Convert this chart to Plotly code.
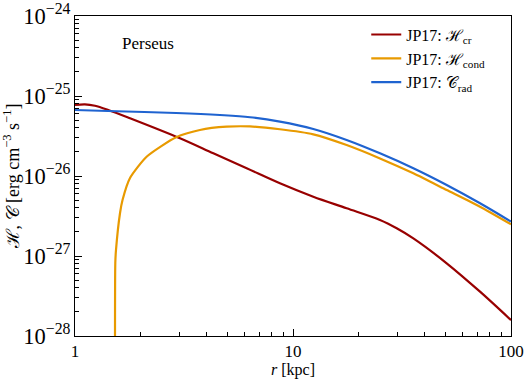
import plotly.graph_objects as go

# C_rad (blue)
r_rad = [1.0, 1.416, 2.91, 4.62, 6.353, 8.71, 12.39, 17.62, 25.06, 35.65, 50.7, 72.1, 100.0]
c_rad = [6.68e-26, 6.49e-26, 6.13e-26, 5.79e-26, 5.43e-26, 4.78e-26, 3.87e-26, 2.82e-26,
         1.92e-26, 1.25e-26, 7.72e-27, 4.56e-27, 2.69e-27]

# H_cond (orange)
r_cond = [1.526, 1.5306, 1.542, 1.609, 1.652, 1.788, 2.13, 2.91, 3.74, 4.96, 6.35,
          8.71, 12.39, 17.62, 25.06, 35.65, 50.7, 72.1, 100.0]
h_cond = [1e-29, 8.18e-28, 1.19e-27, 3.45e-27, 5.01e-27, 9.44e-27, 1.74e-26, 3.05e-26,
          3.76e-26, 4.13e-26, 4.16e-26, 3.84e-26, 3.32e-26, 2.44e-26, 1.66e-26,
          1.08e-26, 6.68e-27, 4.13e-27, 2.49e-27]

# H_cr (red)
r_cr = [1.0, 1.11, 1.235, 1.421, 1.788, 3.03, 4.31, 6.13, 8.71, 12.39, 17.62, 25.06,
        29.9, 35.65, 50.7, 72.1, 100.0]
h_cr = [7.72e-26, 7.87e-26, 7.55e-26, 6.68e-26, 5.26e-26, 2.96e-26, 1.92e-26, 1.25e-26,
        8.11e-27, 5.51e-27, 3.95e-27, 2.82e-27, 2.22e-27, 1.66e-27, 8.11e-28,
        3.58e-28, 1.58e-28]

x_tickvals = [1, 10, 100]
x_ticktext = ["1", "10", "100"]
x_minor = [2, 3, 4, 5, 6, 7, 8, 9, 20, 30, 40, 50, 60, 70, 80, 90]

FONT = "Liberation Serif, DejaVu Serif, serif"

fig = go.Figure()
fig.add_trace(go.Scatter(x=r_cr, y=h_cr, mode="lines", name="JP17: ℋ<sub>cr</sub>",
                         line=dict(color="#980000", width=2.2, shape="spline", smoothing=0.9)))
fig.add_trace(go.Scatter(x=r_cond, y=h_cond, mode="lines", name="JP17: ℋ<sub>cond</sub>",
                         line=dict(color="#e89a00", width=2.2, shape="spline", smoothing=0.6)))
fig.add_trace(go.Scatter(x=r_rad, y=c_rad, mode="lines", name="JP17: 𝒞<sub>rad</sub>",
                         line=dict(color="#1f63d0", width=2.2, shape="spline", smoothing=1.0)))

fig.update_layout(
    width=524, height=380,
    margin=dict(l=75, r=13, t=16, b=44),
    paper_bgcolor="white", plot_bgcolor="white",
    font=dict(family=FONT, size=17, color="black"),
    legend=dict(x=0.668, y=0.995, xanchor="left", yanchor="top",
                bgcolor="rgba(0,0,0,0)", font=dict(family=FONT, size=16),
                tracegroupgap=0),
    annotations=[
        dict(text="Perseus", x=0.103, y=0.915, xref="paper", yref="paper",
             xanchor="left", yanchor="middle", showarrow=False,
             font=dict(family=FONT, size=17)),
        dict(text="<i>r</i> [kpc]", x=0.5, y=-0.106, xref="paper", yref="paper",
             xanchor="center", yanchor="middle", showarrow=False,
             font=dict(family=FONT, size=16)),
    ],
)
fig.update_xaxes(type="log", range=[0, 2], tickmode="array", tickvals=x_tickvals,
                 ticktext=x_ticktext, automargin=False, ticklabeloverflow="allow",
                 showgrid=False, zeroline=False, showline=True, linecolor="black",
                 linewidth=1, mirror=True, ticks="inside", ticklen=7, tickcolor="black",
                 minor=dict(ticks="inside", ticklen=4, tickcolor="black", showgrid=False,
                            tickmode="array", tickvals=x_minor),
                 tickfont=dict(family=FONT, size=17))
fig.update_yaxes(type="log", range=[-28, -24], dtick=1, exponentformat="power",
                 automargin=False,
                 showgrid=False, zeroline=False, showline=True, linecolor="black",
                 linewidth=1, mirror=True, ticks="inside", ticklen=7, tickcolor="black",
                 minor=dict(ticks="inside", ticklen=4, tickcolor="black", showgrid=False),
                 tickfont=dict(family=FONT, size=18),
                 title=dict(text="ℋ, 𝒞 [erg cm<sup>−3</sup> s<sup>−1</sup>]",
                            font=dict(family=FONT, size=18), standoff=4))

fig.write_html("out.html")
